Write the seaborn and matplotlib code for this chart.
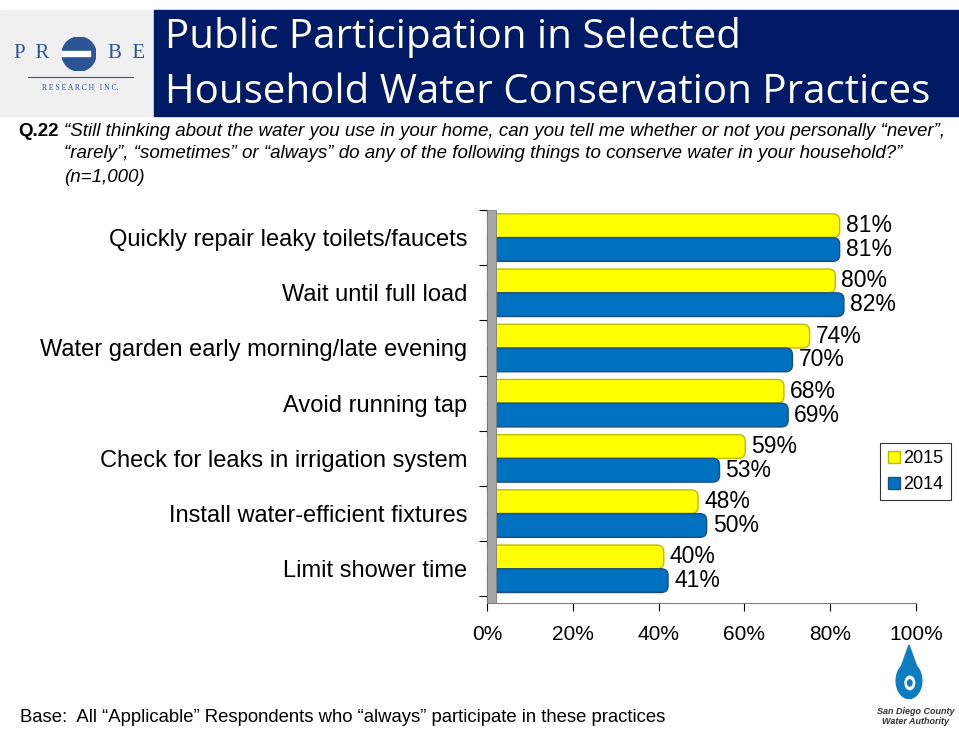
import matplotlib
matplotlib.use('Agg')
import matplotlib.pyplot as plt
import matplotlib.patches as mpatches
from matplotlib.lines import Line2D
import numpy as np
import pandas as pd
import seaborn as sns

sns.set_theme(style='white')
plt.rcParams['font.family'] = ['Liberation Sans', 'DejaVu Sans']
plt.rcParams['text.color'] = 'black'
plt.rcParams['xtick.color'] = 'black'
plt.rcParams['ytick.color'] = 'black'

# data
practices = [
    'Quickly repair leaky toilets/faucets',
    'Wait until full load',
    'Water garden early morning/late evening',
    'Avoid running tap',
    'Check for leaks in irrigation system',
    'Install water-efficient fixtures',
    'Limit shower time',
]
pct_2015 = [81, 80, 74, 68, 59, 48, 40]
pct_2014 = [81, 82, 70, 69, 53, 50, 41]
years = ['2015', '2014']
x_ticks = [0, 20, 40, 60, 80, 100]

YELLOW = '#FFFF00'
YELLOW_EDGE = '#BDBD00'
BLUE = '#0070C0'
BLUE_EDGE = '#1F4E79'
NAVY = '#001A66'

W, H = 959, 730
fig = plt.figure(figsize=(W / 100, H / 100), dpi=100)
fig.patch.set_facecolor('white')


def fx(px):
    return px / W


def fy(py):
    return 1 - py / H


# header: grey logo strip + navy title block
fig.patches.append(mpatches.Rectangle((0, fy(116)), fx(154), fy(10) - fy(116),
                                      transform=fig.transFigure, color='#F0F0F0', zorder=-2))
fig.patches.append(mpatches.Rectangle((fx(154), fy(116)), 1 - fx(154), fy(10) - fy(116),
                                      transform=fig.transFigure, color=NAVY, zorder=-2))
fig.text(fx(165), fy(38), 'Public Participation in Selected', color='white',
         fontsize=29, family='Open Sans', va='center', ha='left')
fig.text(fx(165), fy(93), 'Household Water Conservation Practices', color='white',
         fontsize=29, family='Open Sans', va='center', ha='left')

# probe logo
logo_blue = '#2B5597'
fig.text(fx(14), fy(54), 'P  R', color=logo_blue, fontsize=15, family='Liberation Serif',
         va='center', ha='left')
fig.text(fx(108), fy(54), 'B  E', color=logo_blue, fontsize=15, family='Liberation Serif',
         va='center', ha='left')
logo_ax = fig.add_axes([fx(62), fy(72), fx(34), fy(36) - fy(72)])
logo_ax.set_xlim(-1, 1)
logo_ax.set_ylim(-1, 1)
logo_ax.set_aspect('equal')
logo_ax.axis('off')
logo_ax.add_patch(mpatches.Circle((0, 0), 1, color=logo_blue))
logo_ax.add_patch(mpatches.Rectangle((-1.1, -0.12), 1.75, 0.3, color='white'))
fig.lines.append(Line2D([fx(28), fx(133)], [fy(77), fy(77)], transform=fig.transFigure,
                        color=logo_blue, lw=0.8))
fig.text(fx(80), fy(88), 'R E S E A R C H   I N C.', color=logo_blue, fontsize=5.5,
         family='Liberation Serif', va='center', ha='center')

# question text
fig.text(fx(18), fy(131), 'Q.22', fontsize=13.5, weight='bold', va='center', ha='left')
q_lines = [
    '\u201cStill thinking about the water you use in your home, can you tell me whether or not you personally \u201cnever\u201d,',
    '\u201crarely\u201d, \u201csometimes\u201d or \u201calways\u201d do any of the following things to conserve water in your household?\u201d',
    '(n=1,000)',
]
fig.text(fx(64), fy(131), q_lines[0], fontsize=13.5, style='italic', va='center', ha='left')
fig.text(fx(64), fy(154), q_lines[1], fontsize=13.5, style='italic', va='center', ha='left')
fig.text(fx(64), fy(177), q_lines[2], fontsize=13.5, style='italic', va='center', ha='left')

# chart
ax = fig.add_axes([fx(487), fy(603), fx(916) - fx(487), fy(210) - fy(603)])
df = pd.DataFrame({
    'practice': practices * 2,
    'pct': pct_2015 + pct_2014,
    'year': [years[0]] * len(practices) + [years[1]] * len(practices),
})
sns.barplot(data=df, y='practice', x='pct', hue='year', hue_order=years,
            palette=[YELLOW, BLUE], orient='h', width=0.86, ax=ax, legend=False,
            saturation=1)

ax.set_xlim(0, 100)
ax.set_ylim(len(practices) - 0.5 + 0.12, -0.5)
ax.set_xticks(x_ticks)
ax.set_xticklabels([f'{t}%' for t in x_ticks], fontsize=15)
ax.set_yticks(range(len(practices)))
ax.set_yticklabels(practices, fontsize=17)
ax.set_xlabel('')
ax.set_ylabel('')
ax.tick_params(axis='y', length=0, pad=14)
ax.tick_params(axis='x', length=6, width=0.8, color='black', direction='out', pad=10,
               bottom=True)
ax.set_yticks(np.arange(-0.5, len(practices)), minor=True)
ax.tick_params(axis='y', which='minor', length=6, width=0.8, color='black', left=True)
for side in ['top', 'right']:
    ax.spines[side].set_visible(False)
ax.spines['left'].set_color('black')
ax.spines['left'].set_linewidth(0.8)
ax.spines['bottom'].set_color('#808080')
ax.spines['bottom'].set_linewidth(0.8)

# rounded, outlined bars in place of the flat rectangles
edges = [YELLOW_EDGE, BLUE_EDGE]
aspect = 0.075
for cont, face, edge in zip(ax.containers, [YELLOW, BLUE], edges):
    for bar in cont:
        x0, y0, w, h = bar.get_x(), bar.get_y(), bar.get_width(), bar.get_height()
        bar.set_visible(False)
        rb = mpatches.FancyBboxPatch((x0, y0), w + 1.2, h,
                                     boxstyle='round,pad=0,rounding_size=1.6',
                                     mutation_aspect=aspect, facecolor=face,
                                     edgecolor=edge, lw=1.0, zorder=3)
        ax.add_patch(rb)
    ax.bar_label(cont, labels=[f'{v:.0f}%' for v in cont.datavalues],
                 padding=8, fontsize=16.5, color='black')

# grey side wall
ax.add_patch(mpatches.Rectangle((0, -0.5), 2.2, len(practices) + 0.12,
                                facecolor='#A6A6A6', edgecolor='#7F7F7F', lw=0.6, zorder=4))

# legend
handles = [Line2D([], [], marker='s', ls='', markersize=9, markerfacecolor=YELLOW,
                  markeredgecolor=YELLOW_EDGE, label=years[0]),
           Line2D([], [], marker='s', ls='', markersize=9, markerfacecolor=BLUE,
                  markeredgecolor=BLUE_EDGE, label=years[1])]
leg = fig.legend(handles=handles, loc='upper left', bbox_to_anchor=(fx(880), fy(443)),
                 fontsize=13, frameon=True, fancybox=False, edgecolor='black',
                 handlelength=0.7, handletextpad=0.2, borderpad=0.4, labelspacing=0.5,
                 borderaxespad=0)
leg.get_frame().set_linewidth(0.8)

# footnote
fig.text(fx(20), fy(718), 'Base:  All \u201cApplicable\u201d Respondents who \u201calways\u201d participate in these practices',
         fontsize=13.3, va='center', ha='left')

# water authority mark
drop_ax = fig.add_axes([fx(893), fy(703), fx(32), fy(645) - fy(703)])
drop_ax.set_xlim(-1, 1)
drop_ax.set_ylim(-1, 1.6)
drop_ax.axis('off')
t = np.linspace(0, 2 * np.pi, 200)
drop_ax.fill(0.8 * np.sin(t), 0.8 * np.cos(t), color='#0E7CC1')
drop_ax.fill([-0.55, 0, 0.55], [0.5, 1.6, 0.5], color='#0E7CC1')
drop_ax.add_patch(mpatches.Circle((0.05, -0.1), 0.3, color='white'))
drop_ax.add_patch(mpatches.Circle((0.05, -0.1), 0.14, color='#0E7CC1'))
fig.text(fx(916), fy(712), 'San Diego County', fontsize=6.5, weight='bold', style='italic',
         color='#333333', ha='center', va='center')
fig.text(fx(916), fy(722), 'Water Authority', fontsize=6.5, weight='bold', style='italic',
         color='#333333', ha='center', va='center')

fig.savefig('out.png', dpi=100)
